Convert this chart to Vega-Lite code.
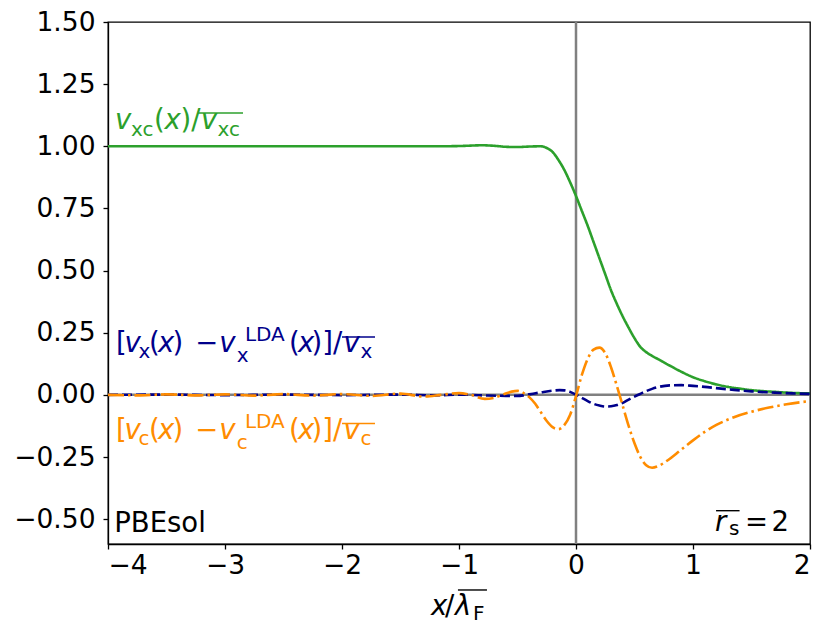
{
  "$schema": "https://vega.github.io/schema/vega-lite/v6.json",
  "width": 702,
  "height": 522,
  "autosize": {"type": "none"},
  "padding": {"left": 108, "top": 22, "right": 20, "bottom": 91},
  "background": "white",
  "config": {
    "view": {"stroke": "black", "strokeWidth": 1.3},
    "axis": {
      "domainColor": "black",
      "domainWidth": 1.3,
      "tickColor": "black",
      "tickWidth": 1.3,
      "tickSize": 5,
      "grid": false,
      "labelFont": "DejaVu Sans",
      "labelFontSize": 26.5,
      "labelColor": "black",
      "title": null
    },
    "text": {"font": "DejaVu Sans", "align": "left", "baseline": "alphabetic"}
  },
  "datasets": {
    "curves": [
      {"s": "xc", "x": -4.0, "y": 1.0}, {"s": "xc", "x": -3.5, "y": 1.0}, {"s": "xc", "x": -3.0, "y": 1.0},
      {"s": "xc", "x": -2.5, "y": 1.0}, {"s": "xc", "x": -2.0, "y": 1.0}, {"s": "xc", "x": -1.5, "y": 1.0},
      {"s": "xc", "x": -1.2, "y": 1.0}, {"s": "xc", "x": -1.0, "y": 1.001}, {"s": "xc", "x": -0.8, "y": 1.004},
      {"s": "xc", "x": -0.7, "y": 1.002}, {"s": "xc", "x": -0.6, "y": 0.998}, {"s": "xc", "x": -0.5, "y": 0.997},
      {"s": "xc", "x": -0.4, "y": 0.999}, {"s": "xc", "x": -0.3, "y": 1.0}, {"s": "xc", "x": -0.25, "y": 0.993},
      {"s": "xc", "x": -0.2, "y": 0.977}, {"s": "xc", "x": -0.15, "y": 0.945}, {"s": "xc", "x": -0.1, "y": 0.905},
      {"s": "xc", "x": -0.05, "y": 0.855}, {"s": "xc", "x": 0.0, "y": 0.8}, {"s": "xc", "x": 0.05, "y": 0.74},
      {"s": "xc", "x": 0.1, "y": 0.68}, {"s": "xc", "x": 0.15, "y": 0.615}, {"s": "xc", "x": 0.2, "y": 0.55},
      {"s": "xc", "x": 0.25, "y": 0.485}, {"s": "xc", "x": 0.3, "y": 0.42}, {"s": "xc", "x": 0.35, "y": 0.365},
      {"s": "xc", "x": 0.4, "y": 0.315}, {"s": "xc", "x": 0.45, "y": 0.27}, {"s": "xc", "x": 0.5, "y": 0.228},
      {"s": "xc", "x": 0.55, "y": 0.193}, {"s": "xc", "x": 0.6, "y": 0.172}, {"s": "xc", "x": 0.65, "y": 0.157},
      {"s": "xc", "x": 0.7, "y": 0.144}, {"s": "xc", "x": 0.8, "y": 0.118}, {"s": "xc", "x": 0.9, "y": 0.093},
      {"s": "xc", "x": 1.0, "y": 0.071}, {"s": "xc", "x": 1.1, "y": 0.055}, {"s": "xc", "x": 1.2, "y": 0.042},
      {"s": "xc", "x": 1.3, "y": 0.032}, {"s": "xc", "x": 1.4, "y": 0.025}, {"s": "xc", "x": 1.5, "y": 0.019},
      {"s": "xc", "x": 1.6, "y": 0.015}, {"s": "xc", "x": 1.7, "y": 0.012}, {"s": "xc", "x": 1.8, "y": 0.009},
      {"s": "xc", "x": 1.9, "y": 0.007}, {"s": "xc", "x": 2.0, "y": 0.006},

      {"s": "x", "x": -4.0, "y": 0.0}, {"s": "x", "x": -3.5, "y": 0.001}, {"s": "x", "x": -3.0, "y": -0.001},
      {"s": "x", "x": -2.5, "y": 0.001}, {"s": "x", "x": -2.0, "y": -0.001}, {"s": "x", "x": -1.5, "y": 0.001},
      {"s": "x", "x": -1.2, "y": -0.002}, {"s": "x", "x": -1.0, "y": 0.001}, {"s": "x", "x": -0.8, "y": -0.002},
      {"s": "x", "x": -0.6, "y": -0.004}, {"s": "x", "x": -0.5, "y": -0.004}, {"s": "x", "x": -0.45, "y": -0.002},
      {"s": "x", "x": -0.4, "y": 0.002}, {"s": "x", "x": -0.3, "y": 0.01}, {"s": "x", "x": -0.2, "y": 0.017},
      {"s": "x", "x": -0.14, "y": 0.019}, {"s": "x", "x": -0.1, "y": 0.018}, {"s": "x", "x": -0.05, "y": 0.012},
      {"s": "x", "x": 0.0, "y": 0.001}, {"s": "x", "x": 0.05, "y": -0.012}, {"s": "x", "x": 0.1, "y": -0.025},
      {"s": "x", "x": 0.15, "y": -0.036}, {"s": "x", "x": 0.2, "y": -0.043}, {"s": "x", "x": 0.25, "y": -0.047},
      {"s": "x", "x": 0.3, "y": -0.046}, {"s": "x", "x": 0.35, "y": -0.041}, {"s": "x", "x": 0.4, "y": -0.032},
      {"s": "x", "x": 0.45, "y": -0.019}, {"s": "x", "x": 0.5, "y": -0.007}, {"s": "x", "x": 0.55, "y": 0.004},
      {"s": "x", "x": 0.6, "y": 0.015}, {"s": "x", "x": 0.65, "y": 0.024}, {"s": "x", "x": 0.7, "y": 0.031},
      {"s": "x", "x": 0.8, "y": 0.038}, {"s": "x", "x": 0.9, "y": 0.039}, {"s": "x", "x": 1.0, "y": 0.036},
      {"s": "x", "x": 1.1, "y": 0.032}, {"s": "x", "x": 1.2, "y": 0.027}, {"s": "x", "x": 1.35, "y": 0.02},
      {"s": "x", "x": 1.5, "y": 0.014}, {"s": "x", "x": 1.7, "y": 0.009}, {"s": "x", "x": 1.85, "y": 0.006},
      {"s": "x", "x": 2.0, "y": 0.004},

      {"s": "c", "x": -4.0, "y": 0.0}, {"s": "c", "x": -3.75, "y": -0.002}, {"s": "c", "x": -3.5, "y": 0.002},
      {"s": "c", "x": -3.25, "y": -0.002}, {"s": "c", "x": -3.0, "y": 0.002}, {"s": "c", "x": -2.75, "y": -0.003},
      {"s": "c", "x": -2.5, "y": 0.003}, {"s": "c", "x": -2.25, "y": -0.003}, {"s": "c", "x": -2.0, "y": 0.003},
      {"s": "c", "x": -1.75, "y": -0.004}, {"s": "c", "x": -1.5, "y": 0.005}, {"s": "c", "x": -1.3, "y": -0.007},
      {"s": "c", "x": -1.15, "y": 0.0}, {"s": "c", "x": -1.0, "y": 0.007}, {"s": "c", "x": -0.9, "y": 0.0},
      {"s": "c", "x": -0.78, "y": -0.016}, {"s": "c", "x": -0.7, "y": -0.012}, {"s": "c", "x": -0.62, "y": 0.002},
      {"s": "c", "x": -0.55, "y": 0.013}, {"s": "c", "x": -0.5, "y": 0.016}, {"s": "c", "x": -0.45, "y": 0.008},
      {"s": "c", "x": -0.4, "y": -0.009}, {"s": "c", "x": -0.35, "y": -0.035}, {"s": "c", "x": -0.3, "y": -0.07},
      {"s": "c", "x": -0.25, "y": -0.105}, {"s": "c", "x": -0.2, "y": -0.13}, {"s": "c", "x": -0.15, "y": -0.138},
      {"s": "c", "x": -0.1, "y": -0.122}, {"s": "c", "x": -0.05, "y": -0.08}, {"s": "c", "x": 0.0, "y": -0.005},
      {"s": "c", "x": 0.05, "y": 0.08}, {"s": "c", "x": 0.1, "y": 0.145}, {"s": "c", "x": 0.15, "y": 0.182},
      {"s": "c", "x": 0.2, "y": 0.19}, {"s": "c", "x": 0.25, "y": 0.168}, {"s": "c", "x": 0.3, "y": 0.11},
      {"s": "c", "x": 0.35, "y": 0.035}, {"s": "c", "x": 0.4, "y": -0.045}, {"s": "c", "x": 0.45, "y": -0.125},
      {"s": "c", "x": 0.5, "y": -0.195}, {"s": "c", "x": 0.55, "y": -0.25}, {"s": "c", "x": 0.6, "y": -0.283},
      {"s": "c", "x": 0.65, "y": -0.293}, {"s": "c", "x": 0.7, "y": -0.287}, {"s": "c", "x": 0.775, "y": -0.266},
      {"s": "c", "x": 0.9, "y": -0.22}, {"s": "c", "x": 1.0, "y": -0.183}, {"s": "c", "x": 1.1, "y": -0.149},
      {"s": "c", "x": 1.2, "y": -0.121}, {"s": "c", "x": 1.35, "y": -0.09}, {"s": "c", "x": 1.5, "y": -0.068},
      {"s": "c", "x": 1.65, "y": -0.051}, {"s": "c", "x": 1.8, "y": -0.038}, {"s": "c", "x": 2.0, "y": -0.025}
    ],
    "pieces": [
      {"s": "xc", "k": "i", "x": -3.94, "y": 1.0695, "t": "v"},
      {"s": "xc", "k": "s", "x": -3.803, "y": 1.043, "t": "xc"},
      {"s": "xc", "k": "n", "x": -3.607, "y": 1.0695, "t": "("},
      {"s": "xc", "k": "i", "x": -3.517, "y": 1.0695, "t": "x"},
      {"s": "xc", "k": "n", "x": -3.38, "y": 1.0695, "t": ")/"},
      {"s": "xc", "k": "i", "x": -3.205, "y": 1.0695, "t": "v"},
      {"s": "xc", "k": "s", "x": -3.064, "y": 1.043, "t": "xc"},

      {"s": "x", "k": "n", "x": -3.932, "y": 0.1724, "t": "["},
      {"s": "x", "k": "i", "x": -3.859, "y": 0.1724, "t": "v"},
      {"s": "x", "k": "s", "x": -3.739, "y": 0.1483, "t": "x"},
      {"s": "x", "k": "n", "x": -3.65, "y": 0.1724, "t": "("},
      {"s": "x", "k": "i", "x": -3.573, "y": 0.1724, "t": "x"},
      {"s": "x", "k": "n", "x": -3.449, "y": 0.1724, "t": ")"},
      {"s": "x", "k": "n", "x": -3.255, "y": 0.1724, "t": "−"},
      {"s": "x", "k": "i", "x": -3.05, "y": 0.1724, "t": "v"},
      {"s": "x", "k": "s", "x": -2.9, "y": 0.1322, "t": "x"},
      {"s": "x", "k": "s", "x": -2.83, "y": 0.2167, "t": "LDA"},
      {"s": "x", "k": "n", "x": -2.453, "y": 0.1724, "t": "("},
      {"s": "x", "k": "i", "x": -2.376, "y": 0.1724, "t": "x"},
      {"s": "x", "k": "n", "x": -2.261, "y": 0.1724, "t": ")]/"},
      {"s": "x", "k": "i", "x": -1.987, "y": 0.1724, "t": "v"},
      {"s": "x", "k": "s", "x": -1.842, "y": 0.1483, "t": "x"},

      {"s": "c", "k": "n", "x": -3.932, "y": -0.1776, "t": "["},
      {"s": "c", "k": "i", "x": -3.859, "y": -0.1776, "t": "v"},
      {"s": "c", "k": "s", "x": -3.739, "y": -0.2017, "t": "c"},
      {"s": "c", "k": "n", "x": -3.65, "y": -0.1776, "t": "("},
      {"s": "c", "k": "i", "x": -3.573, "y": -0.1776, "t": "x"},
      {"s": "c", "k": "n", "x": -3.449, "y": -0.1776, "t": ")"},
      {"s": "c", "k": "n", "x": -3.255, "y": -0.1776, "t": "−"},
      {"s": "c", "k": "i", "x": -3.05, "y": -0.1776, "t": "v"},
      {"s": "c", "k": "s", "x": -2.9, "y": -0.2178, "t": "c"},
      {"s": "c", "k": "s", "x": -2.83, "y": -0.1334, "t": "LDA"},
      {"s": "c", "k": "n", "x": -2.453, "y": -0.1776, "t": "("},
      {"s": "c", "k": "i", "x": -2.376, "y": -0.1776, "t": "x"},
      {"s": "c", "k": "n", "x": -2.261, "y": -0.1776, "t": ")]/"},
      {"s": "c", "k": "i", "x": -1.987, "y": -0.1776, "t": "v"},
      {"s": "c", "k": "s", "x": -1.842, "y": -0.2017, "t": "c"},

      {"s": "k", "k": "n", "x": -3.947, "y": -0.5517, "t": "PBEsol"},
      {"s": "k", "k": "i", "x": 1.188, "y": -0.5477, "t": "r"},
      {"s": "k", "k": "s", "x": 1.308, "y": -0.5638, "t": "s"},
      {"s": "k", "k": "n", "x": 1.444, "y": -0.5477, "t": "="},
      {"s": "k", "k": "n", "x": 1.671, "y": -0.5477, "t": "2"},

      {"s": "k", "k": "i", "x": -1.239, "y": -0.8857, "t": "x"},
      {"s": "k", "k": "n", "x": -1.12, "y": -0.8857, "t": "/"},
      {"s": "k", "k": "i", "x": -1.034, "y": -0.8857, "t": "λ"},
      {"s": "k", "k": "s", "x": -0.88, "y": -0.9058, "t": "F"}
    ],
    "bars": [
      {"s": "xc", "x": -3.231, "x2": -2.846, "y": 1.134},
      {"s": "x", "x": -2.0, "x2": -1.718, "y": 0.2327},
      {"s": "c", "x": -2.0, "x2": -1.718, "y": -0.1152},
      {"s": "k", "x": 1.197, "x2": 1.398, "y": -0.466},
      {"s": "k", "x": -1.009, "x2": -0.761, "y": -0.785}
    ]
  },
  "layer": [
    {
      "data": {"values": [{"x": 0}]},
      "mark": {"type": "rule", "color": "#808080", "strokeWidth": 2.5},
      "encoding": {
        "x": {"field": "x", "type": "quantitative", "scale": {"domain": [-4, 2], "nice": false, "zero": false},
              "axis": {"values": [-4, -3, -2, -1, 0, 1, 2], "format": "d", "labelPadding": 3}}
      }
    },
    {
      "data": {"values": [{"y": 0}]},
      "mark": {"type": "rule", "color": "#808080", "strokeWidth": 2.5},
      "encoding": {
        "y": {"field": "y", "type": "quantitative", "scale": {"domain": [-0.6, 1.5], "nice": false, "zero": false},
              "axis": {"values": [-0.5, -0.25, 0, 0.25, 0.5, 0.75, 1, 1.25, 1.5], "format": ".2f", "labelPadding": 8}}
      }
    },
    {
      "data": {"name": "curves"},
      "mark": {"type": "line", "strokeWidth": 2.6, "interpolate": "monotone", "clip": true},
      "encoding": {
        "x": {"field": "x", "type": "quantitative", "scale": {"domain": [-4, 2], "nice": false, "zero": false},
              "axis": {"values": [-4, -3, -2, -1, 0, 1, 2], "format": "d", "labelPadding": 3}},
        "y": {"field": "y", "type": "quantitative", "scale": {"domain": [-0.6, 1.5], "nice": false, "zero": false},
              "axis": {"values": [-0.5, -0.25, 0, 0.25, 0.5, 0.75, 1, 1.25, 1.5], "format": ".2f", "labelPadding": 8}},
        "color": {
          "field": "s", "type": "nominal",
          "scale": {"domain": ["xc", "x", "c", "k"], "range": ["#2ca02c", "#00008b", "#ff8c00", "black"]},
          "legend": null
        },
        "strokeDash": {
          "field": "s", "type": "nominal",
          "scale": {"domain": ["xc", "x", "c"], "range": [[1, 0], [10, 4], [16, 4, 2.5, 4]]},
          "legend": null
        },
        "detail": {"field": "s"}
      }
    },
    {
      "data": {"name": "bars"},
      "mark": {"type": "rule", "strokeWidth": 1.4},
      "encoding": {
        "x": {"field": "x", "type": "quantitative", "scale": {"domain": [-4, 2], "nice": false, "zero": false},
              "axis": {"values": [-4, -3, -2, -1, 0, 1, 2], "format": "d", "labelPadding": 3}},
        "x2": {"field": "x2"},
        "y": {"field": "y", "type": "quantitative", "scale": {"domain": [-0.6, 1.5], "nice": false, "zero": false},
              "axis": {"values": [-0.5, -0.25, 0, 0.25, 0.5, 0.75, 1, 1.25, 1.5], "format": ".2f", "labelPadding": 8}},
        "color": {"field": "s", "type": "nominal", "legend": null}
      }
    },
    {
      "data": {"name": "pieces"},
      "transform": [{"filter": "datum.k == 'n'"}],
      "mark": {"type": "text", "fontSize": 27.5},
      "encoding": {
        "x": {"field": "x", "type": "quantitative", "scale": {"domain": [-4, 2], "nice": false, "zero": false},
              "axis": {"values": [-4, -3, -2, -1, 0, 1, 2], "format": "d", "labelPadding": 3}},
        "y": {"field": "y", "type": "quantitative", "scale": {"domain": [-0.6, 1.5], "nice": false, "zero": false},
              "axis": {"values": [-0.5, -0.25, 0, 0.25, 0.5, 0.75, 1, 1.25, 1.5], "format": ".2f", "labelPadding": 8}},
        "text": {"field": "t"},
        "color": {"field": "s", "type": "nominal", "legend": null}
      }
    },
    {
      "data": {"name": "pieces"},
      "transform": [{"filter": "datum.k == 'i'"}],
      "mark": {"type": "text", "fontSize": 27.5, "fontStyle": "italic"},
      "encoding": {
        "x": {"field": "x", "type": "quantitative", "scale": {"domain": [-4, 2], "nice": false, "zero": false},
              "axis": {"values": [-4, -3, -2, -1, 0, 1, 2], "format": "d", "labelPadding": 3}},
        "y": {"field": "y", "type": "quantitative", "scale": {"domain": [-0.6, 1.5], "nice": false, "zero": false},
              "axis": {"values": [-0.5, -0.25, 0, 0.25, 0.5, 0.75, 1, 1.25, 1.5], "format": ".2f", "labelPadding": 8}},
        "text": {"field": "t"},
        "color": {"field": "s", "type": "nominal", "legend": null}
      }
    },
    {
      "data": {"name": "pieces"},
      "transform": [{"filter": "datum.k == 's'"}],
      "mark": {"type": "text", "fontSize": 20},
      "encoding": {
        "x": {"field": "x", "type": "quantitative", "scale": {"domain": [-4, 2], "nice": false, "zero": false},
              "axis": {"values": [-4, -3, -2, -1, 0, 1, 2], "format": "d", "labelPadding": 3}},
        "y": {"field": "y", "type": "quantitative", "scale": {"domain": [-0.6, 1.5], "nice": false, "zero": false},
              "axis": {"values": [-0.5, -0.25, 0, 0.25, 0.5, 0.75, 1, 1.25, 1.5], "format": ".2f", "labelPadding": 8}},
        "text": {"field": "t"},
        "color": {"field": "s", "type": "nominal", "legend": null}
      }
    }
  ]
}
